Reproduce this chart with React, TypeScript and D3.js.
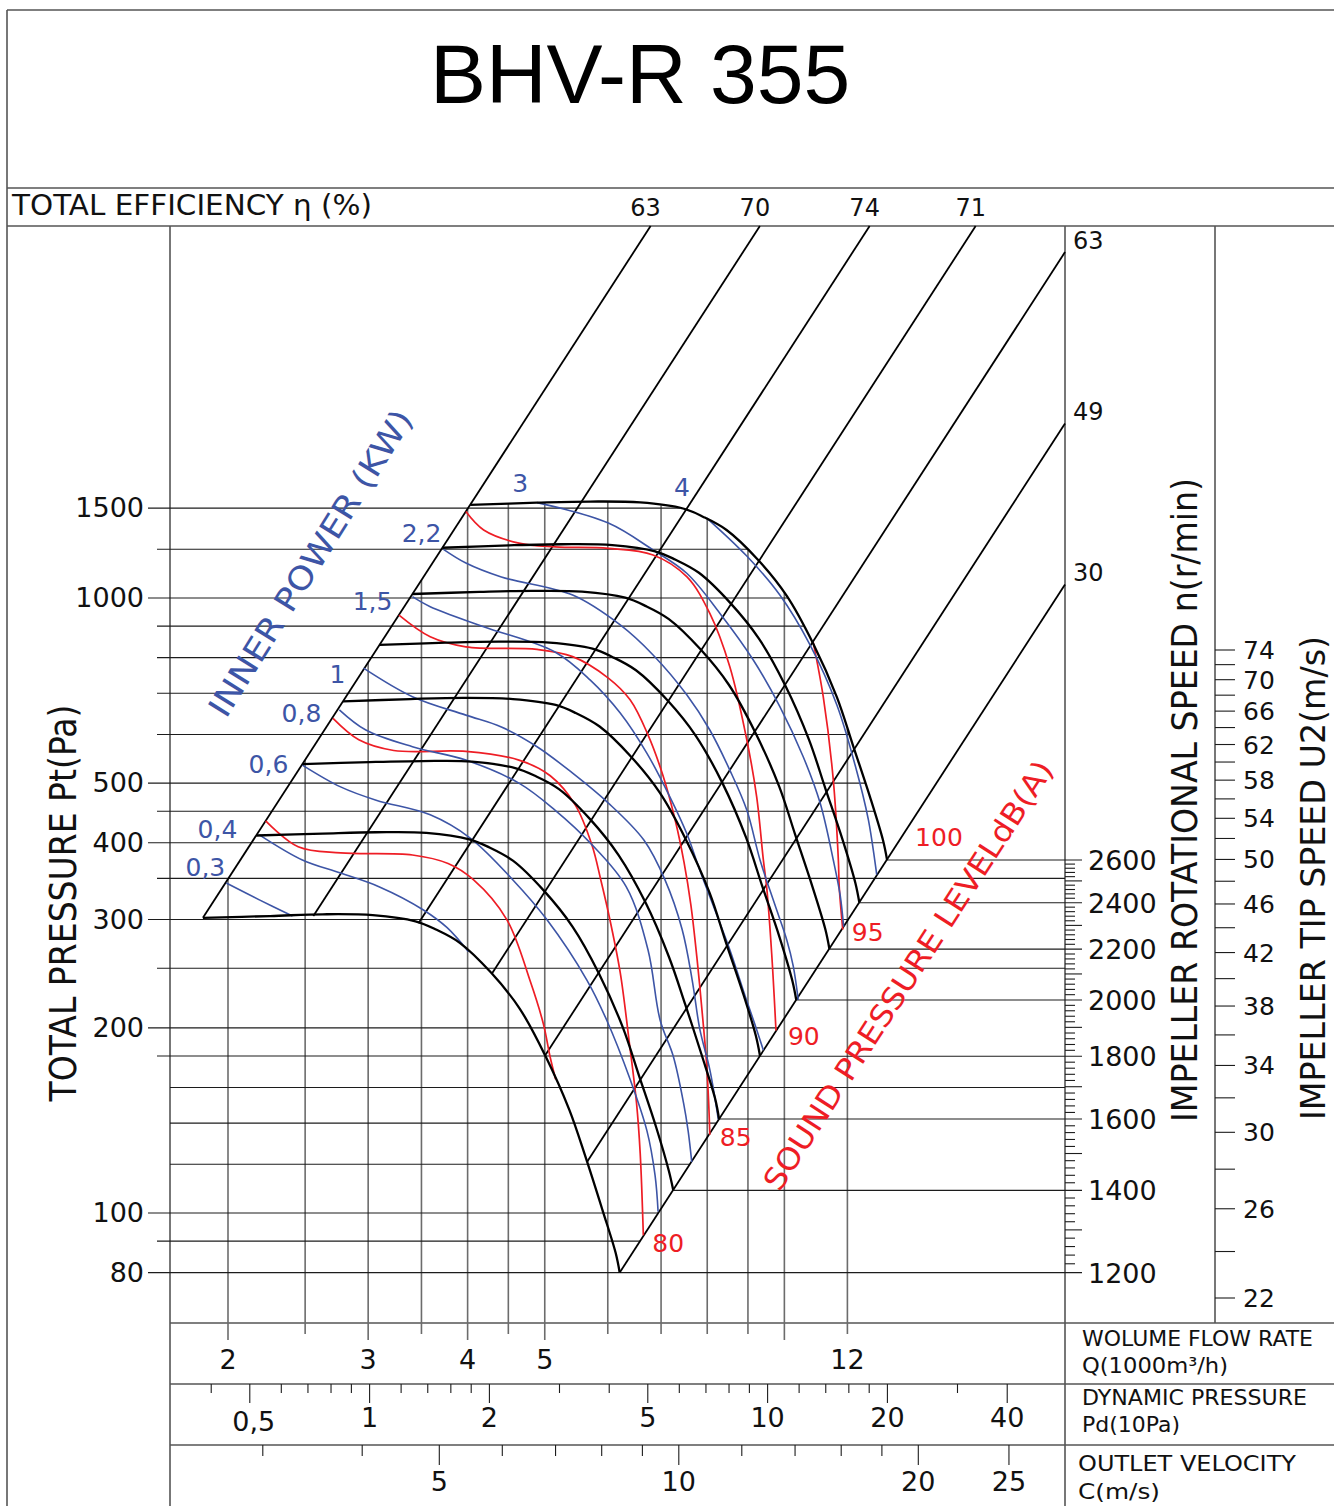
import React from "react";
import * as d3 from "d3";

// ---- data --------------------------------------------------------------
// flow Q in 1000 m3/h, total pressure Pt in Pa

const speeds = [2600, 2400, 2200, 2000, 1800, 1600, 1400, 1200];

const curve2600 = [[4.03,1417],[4.89,1429],[5.70,1435],[6.59,1430],[7.46,1398],[7.90,1356],[8.46,1290],[9.27,1153],[10.07,1008],[10.86,845],[11.64,690],[12.20,575],[12.81,475],[13.30,404],[13.46,375]];
const curve2400 = [[3.72,1207],[4.51,1218],[5.26,1223],[6.08,1219],[6.88,1191],[7.29,1155],[7.81,1099],[8.55,982],[9.29,859],[10.03,720],[10.74,588],[11.26,490],[11.83,405],[12.28,344],[12.42,320]];
const curve2200 = [[3.41,1015],[4.14,1023],[4.82,1027],[5.57,1024],[6.31,1001],[6.69,971],[7.16,924],[7.84,826],[8.52,722],[9.19,605],[9.85,494],[10.32,412],[10.84,340],[11.26,289],[11.39,269]];
const curve2000 = [[3.10,839],[3.76,846],[4.38,849],[5.07,846],[5.74,827],[6.08,802],[6.51,763],[7.13,682],[7.74,597],[8.36,500],[8.95,408],[9.38,340],[9.86,281],[10.23,239],[10.35,222]];
const curve1800 = [[2.79,679],[3.39,685],[3.95,688],[4.56,685],[5.16,670],[5.47,650],[5.86,618],[6.41,553],[6.97,483],[7.52,405],[8.06,331],[8.44,276],[8.87,228],[9.21,194],[9.32,180]];
const curve1600 = [[2.48,537],[3.01,541],[3.51,543],[4.05,542],[4.59,529],[4.86,514],[5.21,489],[5.70,437],[6.19,382],[6.69,320],[7.16,261],[7.51,218],[7.88,180],[8.19,153],[8.28,142]];
const curve1400 = [[2.17,411],[2.63,414],[3.07,416],[3.55,415],[4.02,405],[4.26,393],[4.56,374],[4.99,334],[5.42,292],[5.85,245],[6.27,200],[6.57,167],[6.90,138],[7.16,117],[7.25,109]];
const curve1200 = [[1.86,302],[2.26,304],[2.63,306],[3.04,305],[3.44,298],[3.65,289],[3.91,275],[4.28,246],[4.65,215],[5.01,180],[5.37,147],[5.63,123],[5.91,101],[6.14,86],[6.21,80]];
const speedCurves = [curve2600, curve2400, curve2200, curve2000, curve1800, curve1600, curve1400, curve1200];

// total efficiency (%) lines, each leaving the 1200 r/min curve at the given point
const effLabels = ["63", "70", "74", "71", "63", "49", "30"];
const effStart = [[1.86,302],[2.56,304],[3.47,296],[4.29,245],[5.0,180],[5.65,121],[6.21,80]];

// inner power lines (kW)
const powerLabels = ["0,3", "0,4", "0,6", "0,8", "1", "1,5", "2,2", "3", "4"];
const power03 = [[1.99,344],[2.19,323],[2.41,304]];
const power04 = [[2.19,412],[2.48,375],[2.77,357],[3.10,339],[3.52,311],[3.77,291],[4.01,266]];
const power06 = [[2.48,535],[2.77,493],[3.07,469],[3.59,444],[4.03,407],[4.56,348],[5.03,300],[5.65,239],[5.98,206],[6.40,165],[6.72,136],[6.88,115],[6.94,100.5]];
const power08 = [[2.76,658],[2.98,610],[3.41,573],[3.98,545],[4.64,500],[5.15,452],[5.71,399],[6.33,339],[6.74,268],[6.98,206],[7.25,180],[7.47,151],[7.57,136],[7.65,121]];
const power1 = [[2.96,769],[3.41,691],[3.98,645],[4.41,617],[4.89,573],[5.42,519],[6.01,464],[6.66,404],[7.08,348],[7.44,289],[7.66,239],[7.83,199],[8.06,171],[8.26,142]];
const power15 = [[3.41,1005],[3.59,968],[4.19,898],[5.15,817],[5.70,736],[6.22,650],[6.72,559],[7.18,475],[7.54,414],[7.83,361],[8.18,311],[8.54,268],[8.92,226],[9.19,202],[9.41,184]];
const power22 = [[3.73,1200],[3.98,1140],[4.41,1082],[5.42,1011],[6.22,904],[6.84,808],[7.54,696],[8.06,610],[8.54,525],[8.97,452],[9.32,375],[9.73,317],[10.07,278],[10.26,252],[10.41,222]];
const power3 = [[4.89,1429],[6.01,1324],[6.84,1197],[7.54,1097],[8.30,944],[9.14,793],[9.87,666],[10.56,552],[11.09,464],[11.52,375],[11.75,329],[11.87,292]];
const power4 = [[7.99,1349],[8.97,1170],[9.87,1011],[10.77,839],[11.64,670],[12.27,535],[12.75,436],[13.06,355]];
const powerLines = [power03, power04, power06, power08, power1, power15, power22, power3, power4];

// sound pressure level lines dB(A)
const soundLabels = ["", "80", "85", "90", "95"];
const sound75 = [[2.23,434],[2.45,394],[2.77,385],[3.41,382],[3.78,370],[4.07,348],[4.48,300],[4.79,239],[4.98,203],[5.08,179],[5.16,165]];
const sound80 = [[2.71,637],[2.92,588],[3.23,565],[3.98,563],[4.64,545],[5.08,514],[5.46,461],[5.73,397],[5.88,348],[6.02,305],[6.22,246],[6.38,191],[6.52,151],[6.59,125],[6.65,92]];
const sound85 = [[3.28,938],[3.59,865],[3.98,833],[4.89,825],[5.42,803],[6.01,741],[6.40,683],[6.74,599],[7.04,514],[7.29,436],[7.48,372],[7.63,317],[7.77,258],[7.90,206],[7.98,177],[8.03,153],[8.06,134]];
const sound90 = [[3.98,1382],[4.19,1290],[4.64,1228],[5.15,1211],[6.01,1204],[6.84,1175],[7.54,1083],[8.06,944],[8.54,773],[8.97,588],[9.23,475],[9.41,375],[9.50,339],[9.64,264],[9.76,198]];
const sound95 = [[10.87,847],[11.19,691],[11.52,506],[11.69,375],[11.72,339],[11.84,289]];
const soundLines = [sound75, sound80, sound85, sound90, sound95];

// axis ticks
const pGrid = [1400, 1200, 1000, 900, 800, 700, 600, 500, 450, 400, 350, 300, 250, 200, 180, 160, 140, 120, 100, 90, 80];
const pLabel: Record<number, string> = { 1400: "1500", 1000: "1000", 500: "500", 400: "400", 300: "300", 200: "200", 100: "100", 80: "80" };
const pInner = [160, 140, 120];
const pThrough = [350, 250, 160];

const qTicks = [2, 2.5, 3, 3.5, 4, 4.5, 5, 6, 7, 8, 9, 10, 12];
const qLong = [2, 3, 4, 5, 10];
const qLabels = [2, 3, 4, 5, 12];

const pdTicks = [0.4, 0.5, 0.6, 0.7, 0.8, 0.9, 1, 1.2, 1.4, 1.6, 1.8, 2, 3, 4, 5, 6, 7, 8, 9, 10, 12, 14, 16, 18, 20, 30, 40];
const pdLabel: Record<number, string> = { 0.5: "0,5", 1: "1", 2: "2", 5: "5", 10: "10", 20: "20", 40: "40" };

const cTicks = [3, 4, 5, 6, 7, 8, 9, 10, 12, 14, 16, 18, 20, 26];
const cLabel: Record<number, string> = { 5: "5", 10: "10", 20: "20", 26: "25" };

const rpmLabels = [2600, 2400, 2200, 2000, 1800, 1600, 1400, 1200];

// ---- layout ------------------------------------------------------------
const L = 170, R = 1065, TOP = 226, BOT = 1323, TIPX = 1215, EDGE = 1334;
const BLUE = "#3d55a6", RED = "#ee1d25";
const FONT = "'DejaVu Sans', Verdana, sans-serif";
const powerLabelOff = [[-1, -7], [-22, 3], [-14, 8], [-18, 12], [-18, 15], [-20, 13], [-2, -7], [-9, -11], [-17, -22]];
const soundLabelOff = [[0, 0], [9, 17], [10, 11], [12, 14], [9, 11]];

export default function App() {
  const xQ = d3.scaleLog().domain([2, 12]).range([228, 847.4]);
  const yP = d3.scaleLog().domain([100, 1000]).range([1213, 598]);
  const xPd = d3.scaleLog().domain([1, 10]).range([369.6, 767.6]);
  const xC = d3.scaleLog().domain([5, 20]).range([439.3, 918.3]);
  const yU = d3.scaleLog().domain([22, 74]).range([1298, 650]);
  const end1200 = curve1200[curve1200.length - 1];
  const end2600 = curve2600[curve2600.length - 1];
  const yN = d3.scaleLog().domain([1200, 2600]).range([yP(end1200[1]), yP(end2600[1])]);

  const line = d3.line<number[]>().x((d) => xQ(d[0])).y((d) => yP(d[1])).curve(d3.curveCatmullRom.alpha(0.5));

  const topPts = curve2600.map(([q, p]) => [xQ(q), yP(p)]);
  const [q63, p63] = effStart[0];
  const [q30, p30] = effStart[effStart.length - 1];

  const topY = (x: number) => {
    if (x <= topPts[0][0]) return yP(p63 * Math.pow(xQ.invert(x) / q63, 2));
    for (let i = 0; i < topPts.length - 1; i++) {
      const [x1, y1] = topPts[i], [x2, y2] = topPts[i + 1];
      if (x >= x1 && x <= x2) return y1 + ((y2 - y1) * (x - x1)) / (x2 - x1);
    }
    return topPts[topPts.length - 1][1];
  };
  const rightX = (y: number) => {
    if (y <= topPts[topPts.length - 1][1]) {
      for (let i = topPts.length - 1; i > 0; i--) {
        const [x1, y1] = topPts[i - 1], [x2, y2] = topPts[i];
        if ((y - y1) * (y - y2) <= 0) return x1 + ((x2 - x1) * (y - y1)) / (y2 - y1);
      }
    }
    const p = yP.invert(y);
    return xQ(q30 * Math.sqrt(p / p30));
  };

  const pMaxTop = yP.invert(TOP);
  const qMaxRight = xQ.invert(R);
  const effLines = effStart.map(([q0, p0]) => {
    const kt = Math.sqrt(pMaxTop / p0), kr = qMaxRight / q0;
    const k = Math.min(kt, kr);
    return { x1: xQ(q0), y1: yP(p0), x2: xQ(q0 * k), y2: yP(p0 * k * k), atTop: kt <= kr };
  });

  return (
    <svg width={1334} height={1506} style={{ position: "absolute", left: 0, top: 0, background: "#fff" }} fontFamily={FONT}>
      <rect x={0} y={0} width={1334} height={1506} fill="#fff" />

      {/* frame */}
      <g stroke="#555" strokeWidth={1.6} fill="none">
        <line x1={7} y1={10} x2={EDGE} y2={10} />
        <line x1={7} y1={10} x2={7} y2={1506} />
        <line x1={7} y1={188} x2={EDGE} y2={188} />
        <line x1={7} y1={TOP} x2={EDGE} y2={TOP} />
        <line x1={L} y1={TOP} x2={L} y2={1506} />
        <line x1={R} y1={TOP} x2={R} y2={1506} />
        <line x1={TIPX} y1={TOP} x2={TIPX} y2={BOT} />
        <line x1={L} y1={BOT} x2={EDGE} y2={BOT} />
        <line x1={L} y1={1384} x2={EDGE} y2={1384} />
        <line x1={L} y1={1445} x2={EDGE} y2={1445} />
      </g>

      <text x={640} y={103} textAnchor="middle" fontSize={84} fontFamily="'Liberation Sans', Arial, sans-serif" fill="#000">BHV-R 355</text>
      <text x={12} y={215} fontSize={28} textLength={360} lengthAdjust="spacingAndGlyphs" fill="#111">TOTAL EFFICIENCY η (%)</text>

      {/* vertical flow grid */}
      <g stroke="#6c6c6c" strokeWidth={1.6}>
        {qTicks.map((q) => (
          <line key={q} x1={xQ(q)} x2={xQ(q)} y1={topY(xQ(q))} y2={qLong.includes(q) ? 1340 : 1334} />
        ))}
      </g>

      {/* horizontal pressure grid, speed and tip speed ticks */}
      <g stroke="#1c1c1c" strokeWidth={1.1}>
        {pGrid.map((p) => (
          <line key={p} x1={pLabel[p] ? 148 : pInner.includes(p) ? L : 157} x2={pThrough.includes(p) ? R : rightX(yP(p))} y1={yP(p)} y2={yP(p)} />
        ))}
        {speeds.map((n, i) => {
          const e = speedCurves[i][speedCurves[i].length - 1];
          return <line key={n} x1={xQ(e[0])} x2={1082} y1={yN(n)} y2={yN(n)} />;
        })}
        {d3.range(1220, 2600, 20).filter((n) => n % 200 !== 0).map((n) => (
          <line key={n} x1={R} x2={n % 100 === 0 ? 1082 : 1075} y1={yN(n)} y2={yN(n)} />
        ))}
        {d3.range(22, 75, 2).map((u) => (
          <line key={u} x1={TIPX} x2={1235} y1={yU(u)} y2={yU(u)} />
        ))}
        {pdTicks.map((v) => (
          <line key={v} x1={xPd(v)} x2={xPd(v)} y1={1384} y2={pdLabel[v] ? 1403 : 1393} />
        ))}
        {cTicks.map((v) => (
          <line key={v} x1={xC(v)} x2={xC(v)} y1={1445} y2={cLabel[v] ? 1465 : 1456} />
        ))}
      </g>

      {/* efficiency lines */}
      <g stroke="#000" strokeWidth={1.8}>
        {effLines.map((e, i) => (
          <line key={i} x1={e.x1} y1={e.y1} x2={e.x2} y2={e.y2} />
        ))}
      </g>
      <g fontSize={24} fill="#111">
        {effLines.map((e, i) =>
          e.atTop ? (
            <text key={i} x={e.x2 - 5} y={216} textAnchor="middle">{effLabels[i]}</text>
          ) : (
            <text key={i} x={1073} y={e.y2 - 3}>{effLabels[i]}</text>
          )
        )}
      </g>

      {/* sound level lines */}
      <g stroke={RED} strokeWidth={1.7} fill="none">
        {soundLines.map((s, i) => (
          <path key={i} d={line(s) || ""} />
        ))}
      </g>
      {/* power lines */}
      <g stroke={BLUE} strokeWidth={1.6} fill="none">
        {powerLines.map((s, i) => (
          <path key={i} d={line(s) || ""} />
        ))}
      </g>
      {/* Pt-Q curves */}
      <g stroke="#000" strokeWidth={2.3} fill="none">
        {speedCurves.map((c, i) => (
          <path key={speeds[i]} d={line(c) || ""} />
        ))}
      </g>

      {/* power labels */}
      <g fontSize={25} fill={BLUE} textAnchor="end">
        {powerLines.map((s, i) => (
          <text key={i} x={xQ(s[0][0]) + powerLabelOff[i][0]} y={yP(s[0][1]) + powerLabelOff[i][1]}>{powerLabels[i]}</text>
        ))}
      </g>
      <g fontSize={25} fill={RED}>
        {soundLines.map((s, i) => {
          const e = s[s.length - 1];
          return soundLabels[i] ? (
            <text key={i} x={xQ(e[0]) + soundLabelOff[i][0]} y={yP(e[1]) + soundLabelOff[i][1]}>{soundLabels[i]}</text>
          ) : null;
        })}
        <text x={xQ(end2600[0]) + 28} y={yP(end2600[1]) - 14}>100</text>
      </g>

      <text transform="translate(320,569) rotate(-58)" textAnchor="middle" fontSize={32} fill={BLUE} textLength={355} lengthAdjust="spacingAndGlyphs">INNER POWER (KW)</text>
      <text transform="translate(917,981) rotate(-57)" textAnchor="middle" fontSize={30} fill={RED} textLength={505} lengthAdjust="spacingAndGlyphs">SOUND PRESSURE LEVELdB(A)</text>

      {/* pressure axis */}
      <g fontSize={27} fill="#111" textAnchor="end">
        {pGrid.filter((p) => pLabel[p]).map((p) => (
          <text key={p} x={144} y={yP(p) + 9}>{pLabel[p]}</text>
        ))}
      </g>
      <text transform="translate(76,903) rotate(-90)" textAnchor="middle" fontSize={37} textLength={397} lengthAdjust="spacingAndGlyphs" fill="#111">TOTAL PRESSURE Pt(Pa)</text>

      {/* speed axes */}
      <g fontSize={27} fill="#111">
        {rpmLabels.map((n) => (
          <text key={n} x={1088} y={yN(n) + 10}>{n}</text>
        ))}
        {d3.range(22, 75, 4).map((u) => (
          <text key={u} x={1243} y={yU(u) + 9} fontSize={25}>{u}</text>
        ))}
      </g>
      <text transform="translate(1197,800) rotate(-90)" textAnchor="middle" fontSize={36} textLength={644} lengthAdjust="spacingAndGlyphs" fill="#111">IMPELLER ROTATIONAL SPEED n(r/min)</text>
      <text transform="translate(1325,878) rotate(-90)" textAnchor="middle" fontSize={34} textLength={484} lengthAdjust="spacingAndGlyphs" fill="#111">IMPELLER TIP SPEED U2(m/s)</text>

      {/* bottom scales */}
      <g fontSize={27} fill="#111" textAnchor="middle">
        {qLabels.map((q) => (
          <text key={q} x={xQ(q)} y={1369}>{q}</text>
        ))}
        {pdTicks.filter((v) => pdLabel[v]).map((v) => (
          <text key={v} x={xPd(v) + (v < 1 ? 4 : 0)} y={v < 1 ? 1431 : 1427}>{pdLabel[v]}</text>
        ))}
        {cTicks.filter((v) => cLabel[v]).map((v) => (
          <text key={v} x={xC(v)} y={1491}>{cLabel[v]}</text>
        ))}
      </g>
      <g fontSize={22} fill="#111">
        <text x={1082} y={1346} textLength={231} lengthAdjust="spacingAndGlyphs">WOLUME FLOW RATE</text>
        <text x={1082} y={1373} textLength={146} lengthAdjust="spacingAndGlyphs">Q(1000m³/h)</text>
        <text x={1082} y={1405} textLength={225} lengthAdjust="spacingAndGlyphs">DYNAMIC PRESSURE</text>
        <text x={1082} y={1432} textLength={98} lengthAdjust="spacingAndGlyphs">Pd(10Pa)</text>
        <text x={1078} y={1471} textLength={218} lengthAdjust="spacingAndGlyphs">OUTLET VELOCITY</text>
        <text x={1078} y={1499} textLength={82} lengthAdjust="spacingAndGlyphs">C(m/s)</text>
      </g>
    </svg>
  );
}
